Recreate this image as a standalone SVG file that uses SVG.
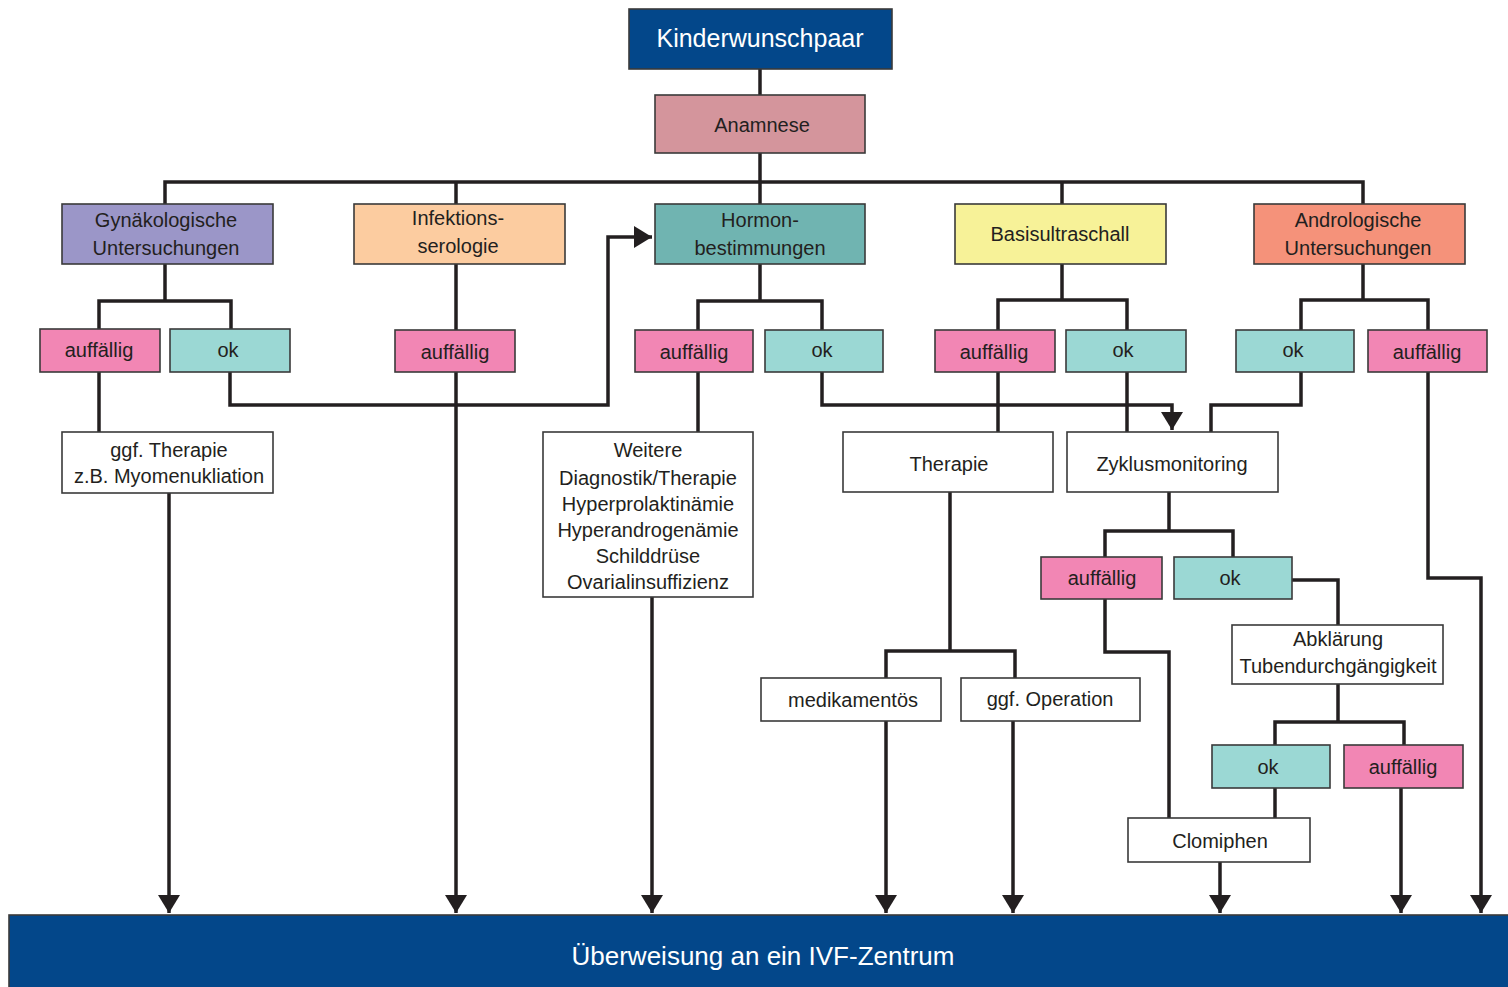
<svg xmlns="http://www.w3.org/2000/svg" width="1508" height="987" viewBox="0 0 1508 987">
<defs>
<style>
.box{stroke:#3a3a3a;stroke-width:1.6}
.t{font-family:"Liberation Sans","DejaVu Sans",sans-serif;font-size:20px;fill:#231f20;text-anchor:middle}
.w{fill:#ffffff;font-size:25px}
.w2{fill:#ffffff;font-size:26px}
.pink{fill:#f286b4}
.teal{fill:#9bd8d4}
.white{fill:#ffffff}
.navy{fill:#03478a}
.c{fill:none;stroke:#231f20;stroke-width:3.5;stroke-linejoin:miter}
</style>
<marker id="ah" viewBox="0 0 18 22" refX="18" refY="11" markerWidth="18" markerHeight="22" markerUnits="userSpaceOnUse" orient="auto">
<path d="M0,0 L18,11 L0,22 z" fill="#231f20"/>
</marker>
</defs>
<rect x="0" y="0" width="1508" height="987" fill="#ffffff"/>

<g id="connectors">
<path class="c" d="M760,69 V95"/>
<path class="c" d="M760,153 V204"/>
<path class="c" d="M165,204 V182 H1363 V204"/>
<path class="c" d="M456,182 V204"/>
<path class="c" d="M1062,182 V204"/>
<path class="c" d="M165,264 V301 M99,329 V301 H231 V329"/>
<path class="c" d="M760,264 V301 M698,330 V301 H822 V330"/>
<path class="c" d="M1062,264 V300 M998,330 V300 H1127 V330"/>
<path class="c" d="M1363,264 V300 M1301,330 V300 H1428 V330"/>
<path class="c" d="M456,264 V330"/>
<path class="c" d="M230,372 V405 H608 V237 H652" marker-end="url(#ah)"/>
<path class="c" d="M822,372 V405 H1172 V430" marker-end="url(#ah)"/>
<path class="c" d="M1127,372 V432"/>
<path class="c" d="M1301,372 V405 H1211 V432"/>
<path class="c" d="M99,372 V432"/>
<path class="c" d="M698,372 V432"/>
<path class="c" d="M998,372 V432"/>
<path class="c" d="M950,492 V651 H886 V678 M950,651 H1015 V678"/>
<path class="c" d="M1169,492 V531 H1105 V557 M1169,531 H1233 V557"/>
<path class="c" d="M1292,580 H1338 V625"/>
<path class="c" d="M1338,684 V722 H1275 V745 M1338,722 H1404 V745"/>
<path class="c" d="M1275,788 V818"/>
<path class="c" d="M1105,599 V652 H1169 V818"/>
<path class="c" d="M169,493 V913" marker-end="url(#ah)"/>
<path class="c" d="M456,372 V913" marker-end="url(#ah)"/>
<path class="c" d="M652,597 V913" marker-end="url(#ah)"/>
<path class="c" d="M886,721 V913" marker-end="url(#ah)"/>
<path class="c" d="M1013,721 V913" marker-end="url(#ah)"/>
<path class="c" d="M1220,862 V913" marker-end="url(#ah)"/>
<path class="c" d="M1401,788 V913" marker-end="url(#ah)"/>
<path class="c" d="M1428,372 V578 H1481 V913" marker-end="url(#ah)"/>
</g>

<g id="kinderwunschpaar"><rect class="box navy" x="629" y="9" width="263" height="60"/><text class="t w" x="760" y="47">Kinderwunschpaar</text></g>
<g id="anamnese"><rect class="box" fill="#d4959c" x="655" y="95" width="210" height="58"/><text class="t" x="762" y="132">Anamnese</text></g>

<g id="gyn"><rect class="box" fill="#9b96c8" x="62" y="204" width="211" height="60"/><text class="t" x="166" y="227">Gynäkologische</text><text class="t" x="166" y="255">Untersuchungen</text></g>
<g id="infekt"><rect class="box" fill="#fccca0" x="354" y="204" width="211" height="60"/><text class="t" x="458" y="225">Infektions-</text><text class="t" x="458" y="253">serologie</text></g>
<g id="hormon"><rect class="box" fill="#70b4b1" x="655" y="204" width="210" height="60"/><text class="t" x="760" y="227">Hormon-</text><text class="t" x="760" y="255">bestimmungen</text></g>
<g id="basis"><rect class="box" fill="#f7f298" x="955" y="204" width="211" height="60"/><text class="t" x="1060" y="241">Basisultraschall</text></g>
<g id="andro"><rect class="box" fill="#f5927a" x="1254" y="204" width="211" height="60"/><text class="t" x="1358" y="227">Andrologische</text><text class="t" x="1358" y="255">Untersuchungen</text></g>

<g id="gyn-auff"><rect class="box pink" x="40" y="329" width="120" height="43"/><text class="t" x="99" y="357">auffällig</text></g>
<g id="gyn-ok"><rect class="box teal" x="170" y="329" width="120" height="43"/><text class="t" x="228" y="357">ok</text></g>
<g id="inf-auff"><rect class="box pink" x="395" y="330" width="120" height="42"/><text class="t" x="455" y="359">auffällig</text></g>
<g id="hor-auff"><rect class="box pink" x="635" y="330" width="118" height="42"/><text class="t" x="694" y="359">auffällig</text></g>
<g id="hor-ok"><rect class="box teal" x="765" y="330" width="118" height="42"/><text class="t" x="822" y="357">ok</text></g>
<g id="bas-auff"><rect class="box pink" x="935" y="330" width="120" height="42"/><text class="t" x="994" y="359">auffällig</text></g>
<g id="bas-ok"><rect class="box teal" x="1066" y="330" width="120" height="42"/><text class="t" x="1123" y="357">ok</text></g>
<g id="and-ok"><rect class="box teal" x="1236" y="330" width="118" height="42"/><text class="t" x="1293" y="357">ok</text></g>
<g id="and-auff"><rect class="box pink" x="1368" y="330" width="119" height="42"/><text class="t" x="1427" y="359">auffällig</text></g>

<g id="ggf-therapie"><rect class="box white" x="62" y="432" width="211" height="61"/><text class="t" x="169" y="457">ggf. Therapie</text><text class="t" x="169" y="483">z.B. Myomenukliation</text></g>
<g id="weitere"><rect class="box white" x="543" y="432" width="210" height="165"/>
<text class="t" x="648" y="457">Weitere</text>
<text class="t" x="648" y="485">Diagnostik/Therapie</text>
<text class="t" x="648" y="511">Hyperprolaktinämie</text>
<text class="t" x="648" y="537">Hyperandrogenämie</text>
<text class="t" x="648" y="563">Schilddrüse</text>
<text class="t" x="648" y="589">Ovarialinsuffizienz</text></g>
<g id="therapie"><rect class="box white" x="843" y="432" width="210" height="60"/><text class="t" x="949" y="471">Therapie</text></g>
<g id="zyklus"><rect class="box white" x="1067" y="432" width="211" height="60"/><text class="t" x="1172" y="471">Zyklusmonitoring</text></g>

<g id="zyk-auff"><rect class="box pink" x="1041" y="557" width="121" height="42"/><text class="t" x="1102" y="585">auffällig</text></g>
<g id="zyk-ok"><rect class="box teal" x="1174" y="557" width="118" height="42"/><text class="t" x="1230" y="585">ok</text></g>
<g id="abklaerung"><rect class="box white" x="1232" y="625" width="211" height="59"/><text class="t" x="1338" y="646">Abklärung</text><text class="t" x="1338" y="673">Tubendurchgängigkeit</text></g>
<g id="medikamentoes"><rect class="box white" x="761" y="678" width="180" height="43"/><text class="t" x="853" y="707">medikamentös</text></g>
<g id="operation"><rect class="box white" x="961" y="678" width="179" height="43"/><text class="t" x="1050" y="706">ggf. Operation</text></g>
<g id="tub-ok"><rect class="box teal" x="1212" y="745" width="118" height="43"/><text class="t" x="1268" y="774">ok</text></g>
<g id="tub-auff"><rect class="box pink" x="1344" y="745" width="119" height="43"/><text class="t" x="1403" y="774">auffällig</text></g>
<g id="clomiphen"><rect class="box white" x="1128" y="818" width="182" height="44"/><text class="t" x="1220" y="848">Clomiphen</text></g>

<g id="ivf"><rect class="box navy" x="9" y="915" width="1510" height="80"/><text class="t w2" x="763" y="965">Überweisung an ein IVF-Zentrum</text></g>
</svg>
